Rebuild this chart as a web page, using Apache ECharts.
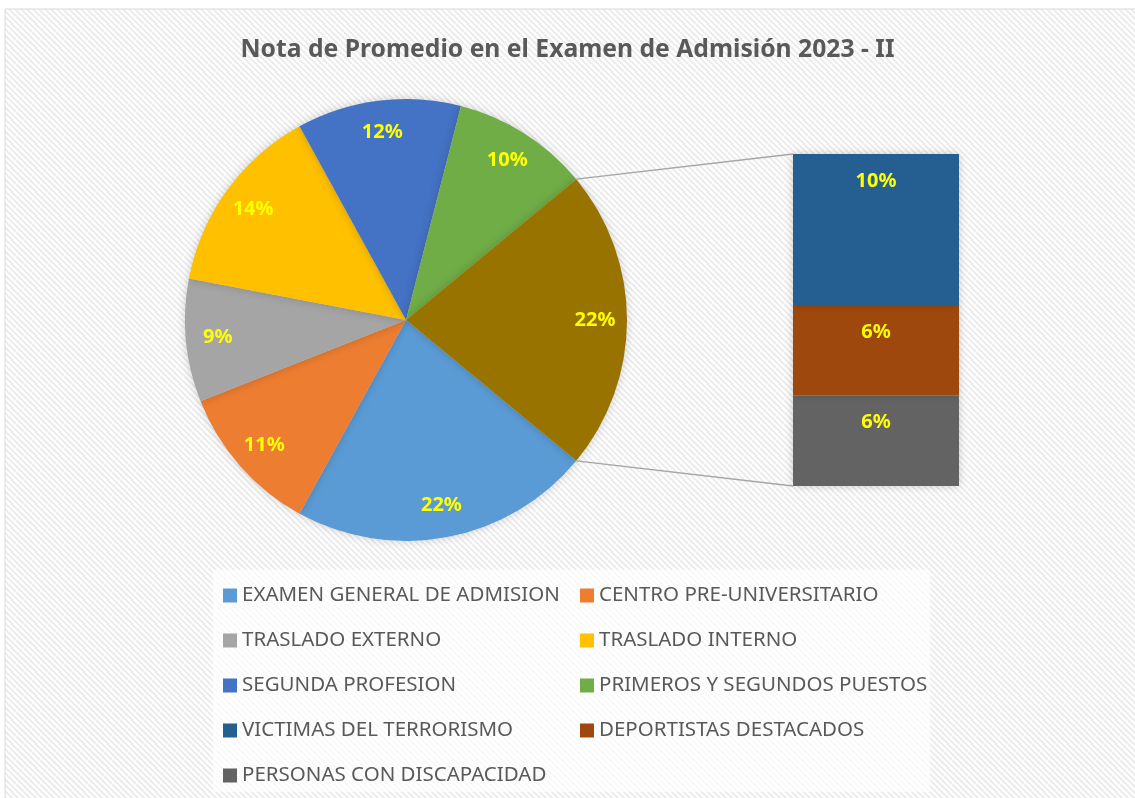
<!DOCTYPE html>
<html>
<head>
<meta charset="utf-8">
<script src="https://cdn.jsdelivr.net/npm/echarts@6/dist/echarts.min.js"></script>
<style>
  html, body { margin: 0; padding: 0; background: #fff; }
  #main { width: 1135px; height: 798px; }
</style>
</head>
<body>
<div id="main"></div>
<script>
// datos del grafico
var pieNames = ['EXAMEN GENERAL DE ADMISION', 'CENTRO PRE-UNIVERSITARIO', 'TRASLADO EXTERNO',
  'TRASLADO INTERNO', 'SEGUNDA PROFESION', 'PRIMEROS Y SEGUNDOS PUESTOS', 'OTROS'];
var pieValues = [22, 11, 9, 14, 12, 10, 22];
var pieColors = ['#5B9BD5', '#ED7D31', '#A5A5A5', '#FFC000', '#4472C4', '#70AD47', '#997300'];

// barra de la derecha (desglose de OTROS), de abajo hacia arriba
var barNames = ['PERSONAS CON DISCAPACIDAD', 'DEPORTISTAS DESTACADOS', 'VICTIMAS DEL TERRORISMO'];
var barValues = [6, 6, 10];
var barColors = ['#636363', '#9E480E', '#255E91'];

var legendLeft = ['EXAMEN GENERAL DE ADMISION', 'TRASLADO EXTERNO', 'SEGUNDA PROFESION',
  'VICTIMAS DEL TERRORISMO', 'PERSONAS CON DISCAPACIDAD'];
var legendRight = ['CENTRO PRE-UNIVERSITARIO', 'TRASLADO INTERNO', 'PRIMEROS Y SEGUNDOS PUESTOS',
  'DEPORTISTAS DESTACADOS'];

var FONT = 'Noto Sans';
var cx = 406, cy = 320, R = 221;
var labelR = 189;

var pieTotal = pieValues.reduce(function (a, b) { return a + b; }, 0);
var otherIdx = pieValues.length - 1;
// la porcion "otros" centrada a la derecha (0 grados)
var halfOther = 360 * pieValues[otherIdx] / pieTotal / 2;
var startAngle = -halfOther;

function midAngle(i) {
  var before = 0;
  for (var k = 0; k < i; k++) before += pieValues[k];
  return startAngle - 360 * (before + pieValues[i] / 2) / pieTotal;
}

// fondo a rayas diagonales
function makePattern() {
  var c = document.createElement('canvas');
  c.width = 6; c.height = 6;
  var ctx = c.getContext('2d');
  ctx.fillStyle = '#ffffff';
  ctx.fillRect(0, 0, 6, 6);
  ctx.strokeStyle = '#ececec';
  ctx.lineWidth = 2;
  ctx.beginPath();
  ctx.moveTo(-1, -1); ctx.lineTo(7, 7);
  ctx.moveTo(-4, 2); ctx.lineTo(4, 10);
  ctx.moveTo(2, -4); ctx.lineTo(10, 4);
  ctx.stroke();
  return c;
}

var pieData = pieNames.map(function (n, i) {
  return { name: n, value: pieValues[i], itemStyle: { color: pieColors[i] } };
});

var labelStyle = {
  show: true,
  color: '#FFFF00',
  fontFamily: FONT,
  fontWeight: 'bold',
  fontSize: 20
};

var barSeries = barNames.map(function (n, i) {
  return {
    name: n,
    type: 'bar',
    stack: 'otros',
    barWidth: '100%',
    data: [barValues[i]],
    itemStyle: { color: barColors[i], shadowBlur: 8, shadowColor: 'rgba(0,0,0,0.2)' },
    label: Object.assign({}, labelStyle, {
      position: 'insideTop',
      distance: 17,
      formatter: function (p) { return Math.round(p.value / pieTotal * 100) + '%'; }
    })
  };
});

var legendCommon = {
  orient: 'vertical',
  icon: 'rect',
  itemWidth: 14,
  itemHeight: 14,
  itemGap: 24,
  padding: 0,
  selectedMode: false,
  textStyle: { color: '#595959', fontFamily: FONT, fontSize: 20.5, lineHeight: 20 }
};

var chart = echarts.init(document.getElementById('main'));
var option = {
  animation: false,
  backgroundColor: '#ffffff',
  title: {
    text: 'Nota de Promedio en el Examen de Admisión 2023 - II',
    left: 'center',
    top: 32,
    textStyle: { color: '#595959', fontFamily: FONT, fontWeight: 'bold', fontSize: 24.7 }
  },
  legend: [
    Object.assign({}, legendCommon, { data: legendLeft, left: 223, top: 585 }),
    Object.assign({}, legendCommon, { data: legendRight, left: 580, top: 585 })
  ],
  grid: { left: 793, top: 154, width: 166, height: 332 },
  xAxis: { type: 'category', data: ['otros'], show: false },
  yAxis: { type: 'value', min: 0, max: 22, show: false },
  graphic: [
    {
      type: 'rect', z: -10, silent: true,
      shape: { x: 5, y: 9, width: 1140, height: 800 },
      style: { fill: { image: makePattern(), repeat: 'repeat' }, stroke: '#d9d9d9', lineWidth: 1 }
    },
    {
      type: 'rect', z: -9, silent: true,
      shape: { x: 213, y: 570, width: 717, height: 222 },
      style: { fill: 'rgba(255,255,255,0.7)' }
    }
  ],
  series: [
    {
      type: 'pie',
      center: [cx, cy],
      radius: [0, R],
      startAngle: startAngle,
      clockwise: true,
      silent: true,
      itemStyle: { shadowBlur: 10, shadowColor: 'rgba(0,0,0,0.18)' },
      label: Object.assign({}, labelStyle, {
        position: 'inside',
        formatter: function (p) { return Math.round(p.value / pieTotal * 100) + '%'; }
      }),
      labelLine: { show: false },
      labelLayout: function (p) {
        var a = midAngle(p.dataIndex) * Math.PI / 180;
        return {
          x: cx + labelR * Math.cos(a),
          y: cy - labelR * Math.sin(a),
          align: 'center',
          verticalAlign: 'middle'
        };
      },
      data: pieData
    }
  ].concat(barSeries)
};
chart.setOption(option);

// lineas de union entre la porcion "otros" y la barra
var h = halfOther * Math.PI / 180;
var barTop = chart.convertToPixel({ yAxisIndex: 0 }, barValues.reduce(function (a, b) { return a + b; }, 0));
var barBottom = chart.convertToPixel({ yAxisIndex: 0 }, 0);
var barLeft = option.grid.left;
chart.setOption({
  graphic: option.graphic.concat([
    {
      type: 'polyline', silent: true, z: 5,
      shape: { points: [[cx + R * Math.cos(h), cy - R * Math.sin(h)], [barLeft, barTop]] },
      style: { stroke: '#A5A5A5', lineWidth: 1.5, fill: null }
    },
    {
      type: 'polyline', silent: true, z: 5,
      shape: { points: [[cx + R * Math.cos(h), cy + R * Math.sin(h)], [barLeft, barBottom]] },
      style: { stroke: '#A5A5A5', lineWidth: 1.5, fill: null }
    }
  ])
});
</script>
</body>
</html>
